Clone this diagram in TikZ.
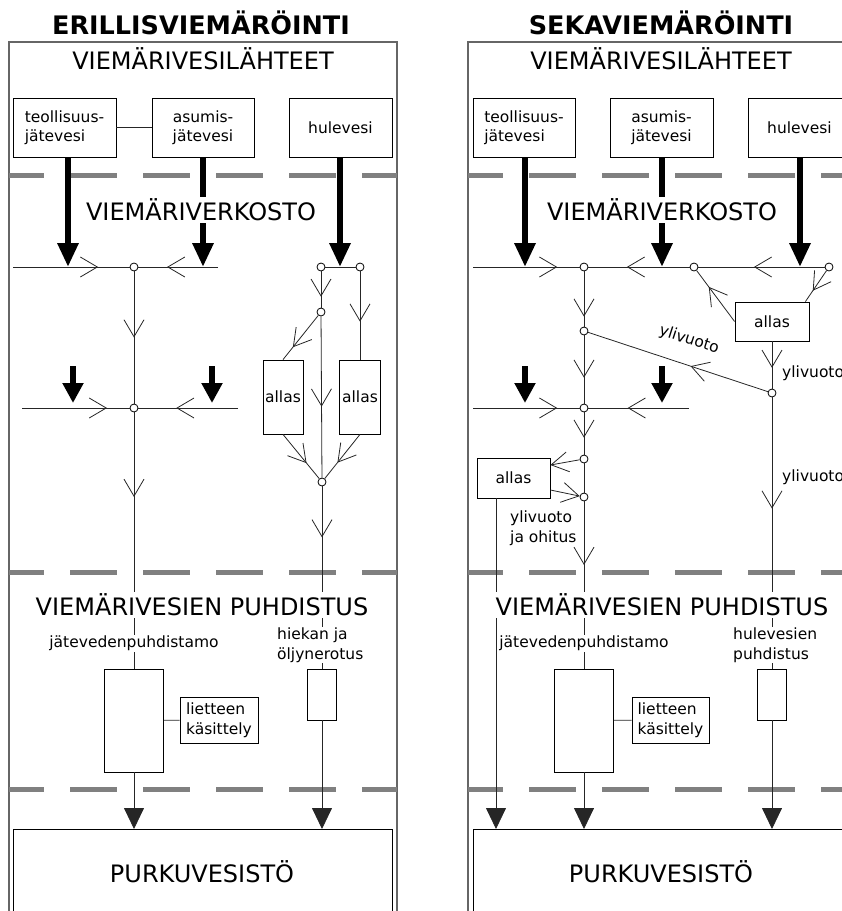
\documentclass[tikz,border=0pt]{standalone}
\usepackage{fontspec}
\setmainfont{DejaVu Sans}
\usetikzlibrary{arrows.meta,decorations.markings}

\begin{document}
\begin{tikzpicture}[x=1pt, y=-1pt,
        frame/.style={draw=gray!80!black, line width=1.2pt},
        sep/.style={draw=gray, line width=5pt, dash pattern=on 47pt off 26pt, dash phase=12pt},
        sbox/.style={draw, fill=white, line width=0.8pt, inner sep=0pt, align=center, font=\fontsize{15.5}{19.5}\selectfont},
        jn/.style={circle, draw, fill=white, line width=0.8pt, minimum size=8pt, inner sep=0pt},
        lbl/.style={fill=white, inner sep=1pt, align=left, font=\fontsize{15.5}{19.5}\selectfont},
        head/.style={fill=white, inner sep=2pt, font=\fontsize{24}{28}\selectfont},
        ttl/.style={font=\fontsize{25.5}{29}\selectfont\bfseries},
        flow/.style={draw=black!85, line width=0.8pt},
        flowat/.style={postaction={decorate, decoration={markings, mark=at position #1 with {\arrow{Straight Barb[length=17pt, width=20pt]}}}}},
        barb/.style={-{Straight Barb[length=17pt, width=20pt]}},
        fat/.style={line width=6pt, -{Triangle[width=20pt, length=24pt]}},
        drop/.style={line width=6pt, -{Triangle[width=20pt, length=20pt]}},
        outlet/.style={draw=black!85, line width=0.8pt, -{Triangle[width=20pt, length=21pt]}},
    ]
    \useasboundingbox (0,0) rectangle (842,911);
    \clip (0,0) rectangle (842,911);

    % ERILLISVIEMÄRÖINTI (left)
    \node[ttl] (ltitle) at (201,23) {ERILLISVIEMÄRÖINTI};
    \draw[frame] (9,42) rectangle (397,940);
    \foreach \y in {175,572,789}
        \draw[sep] (9,\y) -- (397,\y);

    % sources
    \node[sbox, minimum width=103pt, minimum height=59pt, align=left] (lteol) at (64.5,127.5) {teollisuus-\\jätevesi};
    \node[sbox, minimum width=102pt, minimum height=59pt] (lasum) at (203,127.5) {asumis-\\jätevesi};
    \node[sbox, minimum width=103pt, minimum height=59pt] (lhule) at (340.5,127.5) {hulevesi};
    \draw[flow] (lteol) -- (lasum);

    % network junctions
    \node[jn] (lj1) at (134,267) {};
    \node[jn] (lj2) at (134,408) {};
    \node[jn] (lh1) at (321,267) {};
    \node[jn] (lh2) at (360,267) {};
    \node[jn] (lh3) at (321,312) {};
    \node[jn] (lh4) at (322,482) {};
    \coordinate (la) at (13,267);
    \coordinate (lb) at (218,267);
    \coordinate (lc) at (22,408);
    \coordinate (ld) at (238,408);

    % basins and treatment
    \node[sbox, minimum width=40pt, minimum height=74pt] (lal1) at (283,397) {allas};
    \node[sbox, minimum width=41pt, minimum height=74pt] (lal2) at (360,397) {allas};
    \node[sbox, minimum width=59pt, minimum height=103pt] (ljvp) at (134,720.5) {};
    \node[sbox, minimum width=78pt, minimum height=46pt, align=left] (llie) at (219,720) {lietteen\\käsittely};
    \node[sbox, minimum width=29pt, minimum height=51pt] (lhiek) at (322,694.5) {};
    \node[sbox, minimum width=379pt, minimum height=120pt, anchor=north] (lpurku) at (202.5,829) {};

    % sewer lines
    \draw[flow, flowat=0.73] (la) -- (lj1);
    \draw[flow, flowat=0.64] (lb) -- (lj1);
    \draw[flow, flowat=0.50] (lj1) -- (lj2);
    \draw[flow, flowat=0.79] (lc) -- (lj2);
    \draw[flow, flowat=0.62] (ld) -- (lj2);
    \draw[flow, flowat=0.33] (lj2) -- (ljvp);
    \draw[flow] (lh1) -- (lh2);
    \draw[flow, flowat=0.70] (lh1) -- (lh3);
    \draw[flow, flowat=0.57] (lh2) -- (lal2);
    \draw[flow, flowat=0.72] (lh3) -- (lal1.north);
    \draw[flow, flowat=0.56] (lh3) -- (lh4);
    \draw[flow, flowat=0.65] (lal1.south) -- (lh4);
    \draw[flow, flowat=0.64] (lal2.south) -- (lh4);
    \draw[flow, flowat=0.28] (lh4) -- (lhiek);
    \draw[flow] (ljvp) -- (llie);
    \draw[outlet] (ljvp) -- (ljvp |- lpurku.north);
    \draw[outlet] (lhiek) -- (lhiek |- lpurku.north);

    % inflows
    \foreach \x/\b in {68/lteol, 203/lasum, 340/lhule}
        \draw[fat] (\x,0 |- \b.south) -- (\x,267);
    \foreach \x in {73,212}
        \draw[drop] (\x,366) -- (\x,403);

    % labels
    \node[head] (lsrc) at (203,59) {VIEMÄRIVESILÄHTEET};
    \node[head] (lnet) at (201,210) {VIEMÄRIVERKOSTO};
    \node[head] (ltrt) at (202,605) {VIEMÄRIVESIEN PUHDISTUS};
    \node[lbl] (ljvpl) at (134,643) {jätevedenpuhdistamo};
    \node[lbl, anchor=west] (lhiekl) at (276,645) {hiekan ja\\öljynerotus};
    \node[head, fill=none] (lpurkul) at (202,872) {PURKUVESISTÖ};

    % SEKAVIEMÄRÖINTI (right)
    \node[ttl] (rtitle) at (661,23) {SEKAVIEMÄRÖINTI};
    \draw[frame] (468,42) rectangle (900,940);
    \foreach \y in {175,572,789}
        \draw[sep] (468,\y) -- (900,\y);

    % sources
    \node[sbox, minimum width=102pt, minimum height=59pt, align=left] (rteol) at (524,127.5) {teollisuus-\\jätevesi};
    \node[sbox, minimum width=103pt, minimum height=59pt] (rasum) at (661.5,127.5) {asumis-\\jätevesi};
    \node[sbox, minimum width=103pt, minimum height=59pt] (rhule) at (799.5,127.5) {hulevesi};

    % network junctions
    \node[jn] (rj1) at (584,267) {};
    \node[jn] (rj2) at (694,267) {};
    \node[jn] (rj3) at (829,267) {};
    \node[jn] (rk1) at (584,331) {};
    \node[jn] (rj4) at (584,408) {};
    \node[jn] (rk2) at (584,459) {};
    \node[jn] (rk3) at (584,497) {};
    \node[jn] (rk4) at (772,393) {};
    \coordinate (ra) at (473,267);
    \coordinate (rc) at (473,408);
    \coordinate (rd) at (689,408);

    % basins and treatment
    \node[sbox, minimum width=74pt, minimum height=39pt] (ral1) at (772,321.5) {allas};
    \node[sbox, minimum width=73pt, minimum height=40pt] (ral2) at (513.5,478) {allas};
    \node[sbox, minimum width=59pt, minimum height=103pt] (rjvp) at (584,720.5) {};
    \node[sbox, minimum width=77pt, minimum height=46pt, align=left] (rlie) at (670.5,720) {lietteen\\käsittely};
    \node[sbox, minimum width=29pt, minimum height=51pt] (rhul) at (772,694.5) {};
    \node[sbox, minimum width=420pt, minimum height=120pt, anchor=north west] (rpurku) at (473,829) {};
    \coordinate (rby) at ([xshift=-17.5pt]ral2.south);

    % sewer lines
    \draw[flow, flowat=0.79] (ra) -- (rj1);
    \draw[flow, flowat=0.56] (rj3) -- (rj2);
    \draw[flow, flowat=0.62] (rj2) -- (rj1);
    \draw[flow, flowat=0.82] (rj1) -- (rk1);
    \draw[flow, flowat=0.62] (rk1) -- (rj4);
    \draw[flow, flowat=0.79] (rc) -- (rj4);
    \draw[flow, flowat=0.61] (rd) -- (rj4);
    \draw[flow, flowat=0.60] (rj4) -- (rk2);
    \draw[flow] (rk2) -- (rk3);
    \draw[flow, flowat=0.38] (rk3) -- (rjvp);
    \draw[flow, flowat=0.68] (ral1.west) -- (rj2);
    \draw[flow, flowat=0.65] (rj3) -- ([xshift=-4pt]ral1.north east);
    \draw[flow, flowat=0.56] (ral1) -- (rk4);
    \draw[flow, flowat=0.43] (rk4) -- (rk1);
    \draw[flow, flowat=0.41] (rk4) -- (rhul);
    \draw[flow, barb] (rk2) -- ([yshift=13pt]ral2.east);
    \draw[flow, barb] ([yshift=-12pt]ral2.east) -- (rk3);
    \draw[flow] (rjvp) -- (rlie);
    \draw[outlet] (rby) -- (rby |- rpurku.north);
    \draw[outlet] (rjvp) -- (rjvp |- rpurku.north);
    \draw[outlet] (rhul) -- (rhul |- rpurku.north);

    % inflows
    \foreach \x/\b in {525/rteol, 662/rasum, 800/rhule}
        \draw[fat] (\x,0 |- \b.south) -- (\x,267);
    \foreach \x in {525,662}
        \draw[drop] (\x,366) -- (\x,403);

    % labels
    \node[head] (rsrc) at (661,59) {VIEMÄRIVESILÄHTEET};
    \node[head] (rnet) at (662,210) {VIEMÄRIVERKOSTO};
    \node[head] (rtrt) at (662,605) {VIEMÄRIVESIEN PUHDISTUS};
    \node[lbl] (rjvpl) at (584,643) {jätevedenpuhdistamo};
    \node[lbl, anchor=west] (rhull) at (732,645) {hulevesien\\puhdistus};
    \node[lbl, fill=none, rotate=-18] (rov1) at (689,340) {ylivuoto};
    \node[lbl, anchor=west] (rov2) at (781,373) {ylivuoto};
    \node[lbl, anchor=west] (rov3) at (781,477) {ylivuoto};
    \node[lbl, anchor=west] (rov4) at (509,528) {ylivuoto\\ja ohitus};
    \node[head, fill=none] (rpurkul) at (661,872) {PURKUVESISTÖ};
\end{tikzpicture}
\end{document}
